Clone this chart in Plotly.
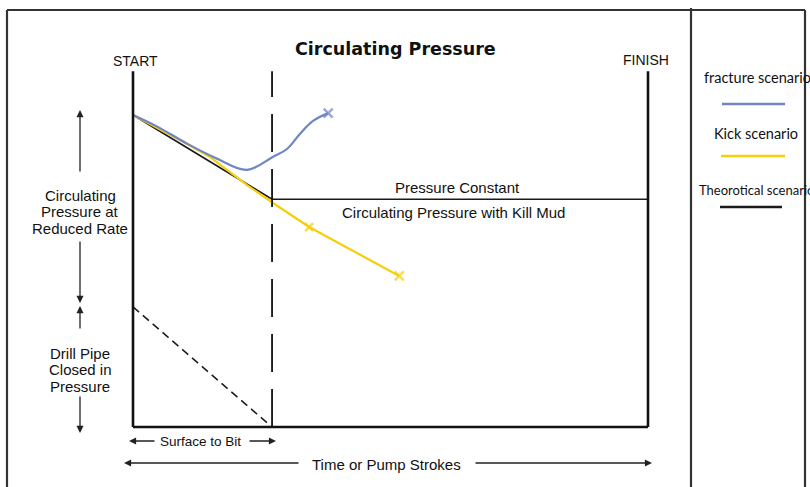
import plotly.graph_objects as go

# ---------------- data (x: % of pump strokes START->FINISH, y: % of initial circulating pressure)
stage_x = [0, 27, 100]            # START, bit reached, FINISH
stage_labels = ["START", "", "FINISH"]
pressure_top = 114

theor_x = [0, 27, 100]
theor_y = [100, 73, 73]

frac_x = [0, 4.8, 10.4, 16.2, 22.1, 27.2, 29.9, 32.4, 34.95, 37.9]
frac_y = [100, 96.2, 90.9, 86.1, 82.4, 86.6, 89.1, 93.9, 98.1, 100.6]

kick_x = [0, 9.1, 15.0, 22.1, 27.2, 34.2, 51.7]
kick_y = [100, 92.0, 86.5, 77.6, 71.8, 64.1, 48.4]

dpcip_x = [0, 27]
dpcip_y = [38.5, 0]

legend_names = ["fracture scenario", "Kick scenario", "Theorotical scenario"]

BLUE = "#6F86C6"
YELLOW = "#F6CF0A"
BLACK = "#1a1a1a"

W, H = 810, 487
OX, OY = 133, 427        # figure pixel of data origin
SX, SY = 5.15, 3.12      # pixels per data unit

def px(x):
    return x / W

def py(y):
    return 1 - y / H

fig = go.Figure()

fig.add_trace(go.Scatter(x=theor_x, y=theor_y, mode="lines",
                         line=dict(color=BLACK, width=1.6), showlegend=False))
fig.add_trace(go.Scatter(x=kick_x, y=kick_y, mode="lines+markers",
                         line=dict(color=YELLOW, width=2.2),
                         marker=dict(symbol="x-thin", size=[0, 0, 0, 0, 0, 8, 9],
                                     line=dict(color=YELLOW, width=2.5), color=YELLOW),
                         showlegend=False))
fig.add_trace(go.Scatter(x=frac_x, y=frac_y, mode="lines+markers",
                         line=dict(color=BLUE, width=2.2, shape="spline", smoothing=1.0),
                         marker=dict(symbol="x-thin", size=[0] * (len(frac_x) - 1) + [9],
                                     line=dict(color=BLUE, width=2.5), color=BLUE),
                         showlegend=False))
fig.add_trace(go.Scatter(x=dpcip_x, y=dpcip_y, mode="lines",
                         line=dict(color=BLACK, width=1.5, dash="8px,5px"), showlegend=False))

shapes = []
for sx in (stage_x[0], stage_x[2]):
    shapes.append(dict(type="line", xref="x", yref="y", x0=sx, x1=sx, y0=0, y1=pressure_top,
                       line=dict(color="#111", width=2.6)))
shapes.append(dict(type="line", xref="x", yref="y", x0=stage_x[0], x1=stage_x[2], y0=0, y1=0,
                   line=dict(color="#111", width=2.6)))
shapes.append(dict(type="line", xref="x", yref="y", x0=stage_x[1], x1=stage_x[1], y0=0, y1=pressure_top,
                   line=dict(color="#111", width=1.8, dash="38px,17px")))

frame_col = "#333"
shapes += [
    dict(type="line", xref="paper", yref="paper", x0=px(7), x1=px(805), y0=py(10), y1=py(10),
         line=dict(color=frame_col, width=2.2)),
    dict(type="line", xref="paper", yref="paper", x0=px(7), x1=px(7), y0=py(10), y1=py(495),
         line=dict(color=frame_col, width=2.2)),
    dict(type="line", xref="paper", yref="paper", x0=px(691), x1=px(691), y0=py(8), y1=py(495),
         line=dict(color=frame_col, width=2.2)),
    dict(type="line", xref="paper", yref="paper", x0=px(805), x1=px(805), y0=py(10), y1=py(495),
         line=dict(color=frame_col, width=2.2)),
]
leg_cols = [BLUE, YELLOW, BLACK]
leg_lines = [(722, 785, 104), (721, 785, 156), (720, 782, 207)]
for (x0, x1, yy), c in zip(leg_lines, leg_cols):
    shapes.append(dict(type="line", xref="paper", yref="paper", x0=px(x0), x1=px(x1),
                       y0=py(yy), y1=py(yy), line=dict(color=c, width=2.6)))

FONT = "Liberation Sans, Arial, sans-serif"
LFONT = "Lato, Noto Sans, sans-serif"
ann = []

def text(x, y, t, size=15, fam=FONT, anchor="center", color="#111"):
    ann.append(dict(xref="paper", yref="paper", x=px(x), y=py(y), text=t,
                    showarrow=False, xanchor=anchor, yanchor="middle",
                    font=dict(family=fam, size=size, color=color)))

text(395, 49, "<b>Circulating Pressure</b>", size=17.5, fam="DejaVu Sans, sans-serif")
text(135, 61, stage_labels[0], size=14)
text(646, 60, stage_labels[2], size=14)
text(457, 187, "Pressure Constant", size=15)
text(453, 212, "Circulating Pressure with Kill Mud", size=15)
for i, ln in enumerate(["Circulating", "Pressure at", "Reduced Rate"]):
    text(80, 195 + 16.5 * i, ln, size=15)
for i, ln in enumerate(["Drill Pipe", "Closed in", "Pressure"]):
    text(80, 353 + 16.5 * i, ln, size=15)
text(200, 441, "Surface to Bit", size=13.5)
text(386, 464, "Time or Pump Strokes", size=15)

text(702, 77, legend_names[0], size=14.5, fam=LFONT, anchor="left")
text(712, 133, legend_names[1], size=14.5, fam=LFONT, anchor="left")
text(697, 190, legend_names[2], size=13, fam=LFONT, anchor="left")

def arrow(hx, hy, tx, ty):
    ann.append(dict(xref="paper", yref="paper", x=px(hx), y=py(hy), ax=tx - hx, ay=ty - hy,
                    axref="pixel", ayref="pixel", text="", showarrow=True,
                    arrowhead=2, arrowsize=1.1, arrowwidth=1.3, arrowcolor="#222", standoff=0))

arrow(80, 110, 80, 173)
arrow(80, 303, 80, 240)
arrow(80, 306, 80, 330)
arrow(80, 433, 80, 395)
arrow(129, 441, 156, 441)
arrow(276, 441, 248, 441)
arrow(124, 463, 300, 463)
arrow(652, 463, 474, 463)

fig.update_layout(
    width=W, height=H, margin=dict(l=0, r=0, t=0, b=0),
    paper_bgcolor="white", plot_bgcolor="white",
    xaxis=dict(range=[(0 - OX) / SX, (W - OX) / SX], visible=False, fixedrange=True),
    yaxis=dict(range=[(OY - H) / SY, OY / SY], visible=False, fixedrange=True),
    shapes=shapes, annotations=ann, showlegend=False,
)

fig.write_html("out.html", config={"displayModeBar": False, "staticPlot": True},
               post_script="document.body.style.margin='0px';document.body.style.overflow='hidden';")
